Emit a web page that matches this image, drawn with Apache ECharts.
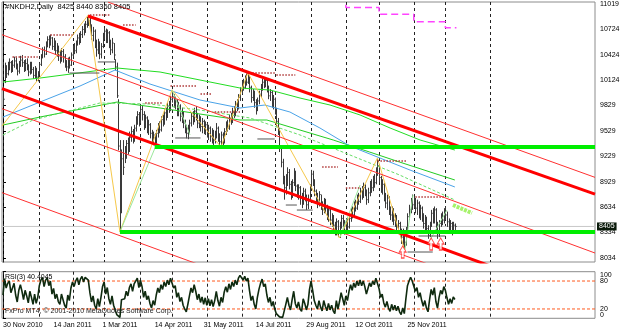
<!DOCTYPE html>
<html><head><meta charset="utf-8">
<script src="https://cdn.jsdelivr.net/npm/echarts@6/dist/echarts.min.js"></script>
<style>html,body{margin:0;padding:0;background:#fff}#c{width:625px;height:331px}</style>
</head><body><div id="c"></div>
<script>
// ---------- data ----------
const barClose=[9900,10260,10200,10280,10330,10250,10300,10350,10290,10230,
10310,10360,10330,10260,10320,10280,10220,10300,10250,10180,
10250,10160,10200,10310,10400,10480,10430,10550,10600,10560,
10620,10520,10580,10470,10500,10420,10380,10460,10400,10320,
10280,10360,10300,10420,10500,10470,10560,10620,10580,10660,
10720,10690,10780,10840,10820,10740,10650,10700,10560,10480,
10560,10430,10520,10640,10700,10600,10680,10560,10480,10560,
10420,10280,9940,9350,8700,9200,9100,9250,9380,9300,
9450,9520,9430,9560,9650,9720,9640,9780,9720,9600,
9680,9560,9600,9500,9420,9480,9400,9500,9580,9540,
9660,9620,9740,9700,9820,9780,9900,9930,9850,9890,
9760,9820,9700,9740,9620,9560,9500,9560,9620,9700,
9660,9760,9700,9620,9680,9580,9640,9540,9600,9500,
9560,9460,9520,9420,9480,9560,9460,9400,9480,9420,
9520,9600,9560,9680,9640,9760,9720,9840,9800,9920,
10000,10080,10040,10140,10100,10160,10040,9920,9980,9860,
9780,9880,9960,10040,10100,10080,10120,10020,9940,9980,
9860,9900,9780,9640,9560,9340,9160,8980,8860,8960,
9040,8900,8780,8920,9040,8880,8800,8860,8740,8700,
8820,8760,8660,8720,8860,9020,8940,8820,8760,8700,
8780,8660,8600,8700,8620,8540,8600,8480,8520,8420,
8360,8460,8340,8420,8500,8440,8360,8460,8400,8500,
8580,8540,8660,8620,8740,8700,8820,8760,8860,8800,
8720,8800,8900,8860,8960,8920,9060,9120,8980,8860,
8900,8760,8680,8740,8600,8540,8600,8480,8520,8400,
8440,8340,8280,8340,8220,8360,8520,8600,8700,8660,
8720,8620,8680,8560,8620,8520,8440,8500,8380,8300,
8420,8560,8480,8600,8420,8320,8440,8520,8480,8580,
8540,8460,8380,8440,8360,8420,8405];
const barHigh=[10044,10330,10300,10340,10380,10350,10360,10400,10390,10320,
10350,10410,10420,10360,10370,10380,10310,10340,10340,10280,
10290,10270,10230,10330,10430,10510,10520,10580,10640,10650,
10660,10630,10620,10590,10560,10530,10480,10500,10490,10430,
10360,10390,10400,10450,10530,10560,10590,10660,10680,10700,
10760,10790,10820,10870,10890,10860,10780,10750,10720,10600,
10610,10580,10560,10680,10740,10730,10720,10700,10600,10620,
10560,10370,10330,9900,9420,9310,9420,9350,9420,9450,
9520,9580,9550,9600,9700,9760,9750,9830,9820,9760,
9720,9700,9660,9620,9540,9520,9500,9540,9620,9640,
9700,9720,9780,9800,9860,9880,9940,10010,9960,9930,
9900,9870,9840,9800,9760,9660,9600,9600,9660,9740,
9760,9800,9820,9740,9720,9700,9680,9660,9640,9620,
9600,9580,9560,9540,9530,9620,9580,9500,9520,9510,
9560,9640,9660,9720,9740,9800,9820,9880,9900,9960,
10040,10120,10140,10180,10200,10210,10170,10060,10020,10000,
9900,9920,10000,10080,10140,10150,10160,10130,10060,10020,
10000,9950,9920,9800,9680,9560,9360,9200,9000,9020,
9100,9080,8940,8960,9090,9060,8900,8900,8880,8800,
8860,8850,8780,8780,8900,9070,9060,8960,8840,8800,
8820,8780,8700,8740,8730,8660,8640,8620,8560,8540,
8460,8500,8480,8460,8540,8540,8480,8500,8500,8540,
8620,8640,8700,8720,8780,8800,8860,8880,8920,8900,
8840,8860,8940,8960,9000,9020,9100,9210,9140,9000,
8960,8920,8800,8780,8760,8640,8640,8620,8560,8540,
8480,8460,8380,8380,8360,8400,8560,8660,8740,8780,
8760,8740,8720,8700,8660,8640,8560,8540,8520,8420,
8460,8600,8620,8640,8620,8460,8480,8560,8580,8620,
8640,8580,8500,8480,8460,8460,8440];
const barLow=[9832,10090,10150,10180,10240,10210,10220,10270,10250,10180,
10200,10280,10280,10220,10230,10240,10170,10190,10200,10140,
10150,10110,10110,10190,10290,10380,10390,10420,10510,10500,
10530,10480,10470,10420,10400,10350,10320,10340,10330,10270,
10230,10210,10260,10290,10400,10430,10440,10530,10540,10560,
10620,10650,10680,10740,10760,10700,10600,10580,10500,10400,
10430,10370,10380,10500,10600,10560,10560,10500,10420,10440,
10360,10240,9915,9300,8340,8560,9010,9150,9200,9250,
9280,9400,9380,9400,9520,9600,9580,9620,9650,9540,
9560,9500,9480,9440,9380,9360,9340,9380,9450,9500,
9520,9580,9600,9650,9680,9740,9760,9860,9800,9780,
9700,9700,9640,9620,9560,9500,9440,9430,9500,9580,
9600,9630,9650,9560,9560,9520,9500,9490,9480,9450,
9420,9400,9380,9360,9380,9440,9400,9350,9340,9360,
9380,9480,9520,9540,9600,9620,9680,9700,9760,9780,
9880,9960,10000,10020,10060,10080,9980,9860,9880,9800,
9720,9760,9840,9920,10000,10030,10040,9980,9900,9880,
9800,9780,9720,9580,9480,9280,9100,8900,8720,8780,
8880,8840,8720,8740,8880,8820,8740,8720,8660,8620,
8660,8700,8600,8610,8700,8840,8880,8760,8680,8620,
8640,8600,8540,8560,8560,8480,8460,8420,8400,8360,
8300,8300,8280,8270,8380,8400,8310,8320,8340,8380,
8460,8500,8520,8580,8600,8660,8680,8720,8740,8760,
8660,8680,8760,8800,8820,8860,8900,9000,8920,8800,
8780,8700,8620,8600,8540,8480,8460,8420,8400,8360,
8320,8280,8200,8180,8140,8180,8340,8480,8560,8600,
8620,8560,8540,8500,8480,8460,8380,8360,8320,8260,
8280,8400,8440,8440,8360,8260,8280,8400,8420,8440,
8480,8400,8320,8340,8300,8340,8360];
const rsiValues=[50,85,65,75,80,55,65,75,50,35,
60,72,58,40,60,48,33,58,45,30,
52,32,45,70,82,88,68,82,87,70,
80,52,64,42,52,36,30,52,40,28,
22,50,38,65,78,68,80,87,72,84,
90,78,88,92,82,55,35,48,28,20,
42,25,45,68,78,52,66,42,30,48,
28,18,8,4,2,40,36,42,58,48,
66,74,58,74,80,86,66,82,68,45,
58,40,48,32,22,38,28,50,65,55,
72,62,78,68,82,72,86,88,65,70,
45,55,36,45,28,20,14,30,48,65,
55,72,58,40,52,34,46,30,44,28,
42,27,40,25,38,58,38,26,45,34,
56,68,56,74,62,78,68,82,72,86,
92,94,82,90,80,86,60,38,48,30,
20,45,62,75,84,68,74,50,34,45,
26,36,20,10,6,3,2,2,2,30,
45,28,18,40,58,32,22,35,20,15,
42,32,18,30,62,80,60,38,28,20,
38,24,16,38,26,16,32,18,28,16,
10,38,20,36,55,42,28,48,38,58,
72,60,76,66,80,70,82,70,80,68,
52,64,76,68,80,72,86,90,64,45,
52,33,24,36,22,15,30,18,28,16,
26,14,8,22,10,42,70,80,88,80,
84,58,66,45,55,38,26,38,22,14,
40,62,50,66,36,22,45,60,52,68,
60,44,30,42,32,46,40.4];

const dateLabels=['30 Nov 2010','14 Jan 2011','1 Mar 2011','14 Apr 2011','31 May 2011','14 Jul 2011','29 Aug 2011','12 Oct 2011','25 Nov 2011'];
const dateLabelIdx=[0,32,63,96,127,160,192,223,256];
const monthGridIdx=[0,23,44,64,87,107,129,151,172,195,217,238,260,280,308];
const priceTicks=[11019,10724,10424,10124,9829,9529,9229,8929,8634,8334,8034];
const rsiTicks=[100,80,20,0];
const rsiLevels=[80,20];
const lastPrice=8405;
const titleText='#NKDH2,Daily  8425 8440 8360 8405';
const rsiText='RSI(3) 40.4045';
const copyText='FxPro MT4, \u00A9 2001-2010 MetaQuotes Software Corp.';

// drawn objects: [idx1, price1, idx2, price2]
const channelThick=[[53.8,10878,374.7,8786],[-0.63,10024,374.7,7494]];
const channelThin=[[66.5,11041,374.7,8982],[-0.63,10658,374.7,8093],[-0.63,9789,374.7,7247],[-0.63,8802,374.7,6260]];
// horizontal levels: [startIdx, price]
const levelGreen=[[96,9339],[74,8340]];
const slopeGreen=[284.8,8657,296.8,8563];
// moving averages: index / value pairs
const maBlueIdx=[0,23.4,48.7,70.9,93,124.7,150,165.8,181.6,200.6,219.6,238.6,257.6,286];
const maBlueVal=[9691,9867,10055,10243,10079,9891,9797,9832,9750,9562,9350,9209,9068,8869];
const maGreenAIdx=[0,23.4,72.2,99.4,124.7,150,169,188,207,226,245,264,286];
const maGreenAVal=[10102,10149,10267,10220,10126,10032,10008,9914,9832,9715,9562,9421,9303];
const maGreenBIdx=[0,23.4,72.2,99.4,124.7,150,167,188,209,232,251,286];
const maGreenBVal=[9597,9691,9867,9797,9726,9656,9656,9538,9421,9280,9162,8951];
const maDashIdx=[0,19,61.4,93,124.7,156.3,188,219.6,251,286];
const maDashVal=[9480,9656,9856,9844,9773,9680,9480,9245,9010,8716];
// zigzag pivots
const zigIdx=[-0.6,54,74,107,138,155,213,237,254];
const zigVal=[9586,10890,8340,10010,9340,10210,8270,9210,8140];
const paleZig=[[74,8340,96.2,9327],[107,10008,118.4,9480],[213.3,8281,226,8892],[254.4,8128,259.5,8775],[270.3,8246,281,8598]];
// monthly step line (magenta)
const pinkIdx=[195,217,238,260,280,287];
const pinkVals=[11120,10978,10898,10811,10741];
// fractal level segments: [from, to, price]
const resSegs=[[6,22,10396],[30,44,10655],[55,68,10890],[76,84,10772],[90,101,9856],[106,123,10056],[125,132,9962],[134,150,9750],[154,172,10208],[173,185,10185],[202,212,9104],[217,226,8857],[237,256,9174],[261,280,8751]];
const supSegs=[[42,61,10208],[60,71,10338],[109,125,9445],[161,172,9433],[179,186,8657],[186,196,8598],[256,272,8105],[263,280,8293]];
const arrowPts=[[253,8105],[271,8199],[277,8199]];

// ---------- chart ----------
const X_MIN=-0.63, X_MAX=374.7, Y_MIN=7987.5, Y_MAX=11042.5;
const FONT='Liberation Sans';
const series=[];
function seg(data,color,width,type,z,xi){
  series.push({type:'line',xAxisIndex:xi||0,yAxisIndex:xi||0,data:data,symbol:'none',showSymbol:false,silent:true,
    animation:false,clip:true,lineStyle:{color:color,width:width,type:type||'solid'},z:z});
}
function gridLines(idx,yRef){
  series.push({type:'custom',xAxisIndex:idx,yAxisIndex:idx,silent:true,animation:false,z:1,
    data:monthGridIdx.map(v=>[v,yRef]),encode:{x:0,y:1},
    renderItem:(params,api)=>{
      const x=Math.round(api.coord([api.value(0),api.value(1)])[0])+0.5;
      const cs=params.coordSys;
      return {type:'line',shape:{x1:x,y1:cs.y,x2:x,y2:cs.y+cs.height},style:{stroke:'#222',lineWidth:1,lineDash:[3,3]}};
    }});
}
gridLines(0,9000);
gridLines(1,50);

// bars
series.push({type:'custom',xAxisIndex:0,yAxisIndex:0,silent:true,animation:false,z:2,
  data:barHigh.map((h,k)=>[k,h,barLow[k],barClose[k]]),encode:{x:0,y:[1,2]},
  renderItem:(params,api)=>{
    const i=api.value(0);
    const ph=api.coord([i,api.value(1)]), pl=api.coord([i,api.value(2)]), pc=api.coord([i,api.value(3)]);
    const x=Math.round(ph[0])+0.5;
    return {type:'group',children:[
      {type:'line',shape:{x1:x,y1:ph[1],x2:x,y2:pl[1]},style:{stroke:'#3a3a3a',lineWidth:1}},
      {type:'line',shape:{x1:x,y1:pc[1],x2:x+1.2,y2:pc[1]},style:{stroke:'#3a3a3a',lineWidth:1}}
    ]};
  }});

// current price line with label
series.push({type:'line',xAxisIndex:0,yAxisIndex:0,data:[[X_MIN,lastPrice],[X_MAX,lastPrice]],symbol:'none',silent:true,animation:false,z:1,
  lineStyle:{color:'#c8c8c8',width:1},
  endLabel:{show:true,formatter:String(lastPrice),color:'#fff',backgroundColor:'#0a1a0a',fontSize:7,fontFamily:FONT,padding:[1,2,0,2],distance:2}});

// moving averages
const zip=(a,b)=>a.map((v,k)=>[v,b[k]]);
seg(zip(maGreenAIdx,maGreenAVal),'#22dd22',1,'solid',3);
seg(zip(maGreenBIdx,maGreenBVal),'#22cc22',1,'solid',3);
seg(zip(maDashIdx,maDashVal),'#66dd66',1,[3,2],3);
seg(zip(maBlueIdx,maBlueVal),'#4aa3e8',1,'solid',3);
// zigzags
seg(zip(zigIdx,zigVal),'#f6c84a',1,'solid',4);
paleZig.forEach(s=>seg([[s[0],s[1]],[s[2],s[3]]],'#9be89b',1,'solid',4));
// fractal segments
resSegs.forEach(s=>seg([[s[0],s[2]],[s[1],s[2]]],'#b03a3a',1.5,[1.5,1.5],4));
supSegs.forEach(s=>seg([[s[0],s[2]],[s[1],s[2]]],'#555555',1,'solid',4));
// pink step
const pinkData=[];
pinkVals.forEach((v,k)=>{pinkData.push([pinkIdx[k],v],[pinkIdx[k+1],v]);});
seg(pinkData,'#ff44ff',1.5,[7,4],4);
// channels
channelThin.forEach(s=>seg([[s[0],s[1]],[s[2],s[3]]],'#ff3030',1,'solid',5));
channelThick.forEach(s=>seg([[s[0],s[1]],[s[2],s[3]]],'#ff0000',3,'solid',5));
// green levels
levelGreen.forEach(s=>seg([[s[0],s[1]],[X_MAX,s[1]]],'#00ee00',4,'solid',5));
seg([[slopeGreen[0],slopeGreen[1]],[slopeGreen[2],slopeGreen[3]]],'#a6f26a',4,[3,1],5);
// arrows
series.push({type:'scatter',xAxisIndex:0,yAxisIndex:0,data:arrowPts,silent:true,animation:false,z:6,
  symbol:'path://M5,0 L10,6 L7,6 L7,12 L3,12 L3,6 L0,6 Z',symbolSize:[7,12],
  itemStyle:{color:'#ffffff',borderColor:'#ff2020',borderWidth:1}});

// RSI
series.push({type:'line',xAxisIndex:1,yAxisIndex:1,data:rsiValues.map((v,k)=>[k,v]),symbol:'none',silent:true,animation:false,z:3,
  lineStyle:{color:'#0f2a0f',width:1.6}});
rsiLevels.forEach(v=>seg([[X_MIN,v],[X_MAX,v]],'#ff5a1e',1,[3,2],2,1));

const rsiAxis=(vals,va,show)=>({gridIndex:1,type:'value',position:'right',min:0,max:100,splitLine:{show:false},
  axisLine:{show:show,lineStyle:{color:'#000'}},
  axisTick:{show:show,customValues:rsiTicks,length:3,lineStyle:{color:'#000'}},
  axisLabel:{customValues:vals,fontSize:7,color:'#000',margin:5,fontFamily:FONT,verticalAlign:va,
    showMinLabel:true,showMaxLabel:true,formatter:v=>String(v)}});

const chart=echarts.init(document.getElementById('c'),null,{renderer:'canvas'});
chart.setOption({
  animation:false,
  backgroundColor:'#ffffff',
  textStyle:{fontFamily:FONT},
  title:[
    {text:titleText,left:5,top:3,textStyle:{fontSize:7.5,fontWeight:'normal',color:'#000',fontFamily:FONT},padding:0},
    {text:rsiText,left:5,top:274,textStyle:{fontSize:7,fontWeight:'normal',color:'#000',fontFamily:FONT},padding:0},
    {text:copyText,left:5,top:308,textStyle:{fontSize:7,fontWeight:'normal',color:'#222',fontFamily:FONT},padding:0}
  ],
  grid:[
    {left:2,top:2,right:30,height:260,show:true,borderColor:'#8c8c8c',borderWidth:1,backgroundColor:'transparent'},
    {left:2,top:271.7,right:30,height:46.6,show:true,borderColor:'#8c8c8c',borderWidth:1,backgroundColor:'transparent'}
  ],
  xAxis:[
    {gridIndex:0,type:'value',min:X_MIN,max:X_MAX,axisLine:{show:false},axisTick:{show:false},axisLabel:{show:false},splitLine:{show:false}},
    {gridIndex:1,type:'value',min:X_MIN,max:X_MAX,axisLine:{show:false},splitLine:{show:false},
      axisTick:{show:false},
      axisLabel:{customValues:dateLabelIdx,align:'left',fontSize:7,color:'#000',margin:3,fontFamily:FONT,
        formatter:v=>{const k=dateLabelIdx.indexOf(v);return k>=0?dateLabels[k]:'';}}}
  ],
  yAxis:[
    {gridIndex:0,type:'value',position:'right',min:Y_MIN,max:Y_MAX,splitLine:{show:false},
      axisLine:{show:true,lineStyle:{color:'#000'}},
      axisTick:{show:true,customValues:priceTicks,length:3,lineStyle:{color:'#000'}},
      axisLabel:{customValues:priceTicks,fontSize:7,color:'#000',margin:5,fontFamily:FONT,formatter:v=>String(v)}},
    rsiAxis([80,20],'middle',true),
    rsiAxis([100],'top',false),
    rsiAxis([0],'bottom',false)
  ],
  series:series
});
</script></body></html>
